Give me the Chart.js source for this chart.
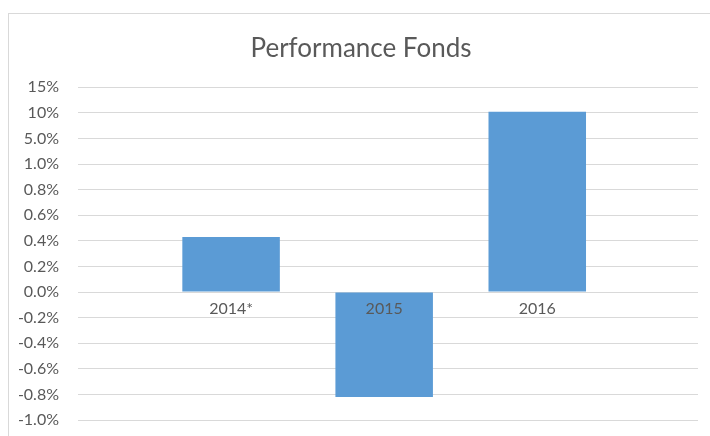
<!DOCTYPE html>
<html>
<head>
<meta charset="utf-8">
<script src="https://cdn.jsdelivr.net/npm/chart.js@4.4.1/dist/chart.umd.min.js"></script>
<style>
    html, body { margin: 0; padding: 0; background: #fff; }
    #wrap { position: relative; width: 710px; height: 436px; overflow: hidden; }
    #frame { position: absolute; left: 8px; top: 13px; width: 800px; height: 500px;
             border-left: 1px solid #D9D9D9; border-top: 1px solid #D9D9D9; }
    #chart { position: absolute; left: 0; top: 0; }
</style>
</head>
<body>
<div id="wrap">
    <div id="frame"></div>
    <canvas id="chart" width="722" height="436"></canvas>
</div>
<script>
// Chart data
const categories = ['2014*', '2015', '2016'];
const performance = [0.43, -0.82, 10.2];   // percent

// The value axis is not linear: equally spaced ticks with these values
const tickValues = [-1.0, -0.8, -0.6, -0.4, -0.2, 0.0, 0.2, 0.4, 0.6, 0.8, 1.0, 5, 10, 15];
const tickLabels = ['-1.0%', '-0.8%', '-0.6%', '-0.4%', '-0.2%', '0.0%', '0.2%', '0.4%', '0.6%', '0.8%', '1.0%', '5.0%', '10%', '15%'];

// Map a percentage onto the tick index scale (piecewise linear)
function toAxis(v) {
    for (let i = 0; i < tickValues.length - 1; i++) {
        const a = tickValues[i], b = tickValues[i + 1];
        if (v <= b || i === tickValues.length - 2) {
            return i + (v - a) / (b - a);
        }
    }
    return 0;
}

const zeroIndex = toAxis(0);
const textColor = '#595959';
const gridColor = '#D9D9D9';

const ctx = document.getElementById('chart').getContext('2d');
new Chart(ctx, {
    type: 'bar',
    data: {
        datasets: [{
            label: 'Performance',
            data: performance.map((v, i) => ({ x: i + 1, y: toAxis(v) - zeroIndex })),
            base: 0,
            backgroundColor: '#5B9BD5',
            borderWidth: 0,
            categoryPercentage: 1,
            barPercentage: 0.637
        }]
    },
    options: {
        responsive: false,
        animation: false,
        layout: { padding: { top: 33, right: 0, bottom: 16, left: 0 } },
        plugins: {
            legend: { display: false },
            tooltip: { enabled: false },
            title: {
                display: true,
                text: 'Performance Fonds',
                color: textColor,
                font: { family: 'Lato', size: 26, weight: 'normal' },
                padding: { top: 0, bottom: 23 }
            }
        },
        scales: {
            x: {
                type: 'linear',
                min: 0,
                max: 4.05,
                offset: false,
                position: { y: 0 },
                grid: { display: false },
                border: { display: false },
                afterBuildTicks: (scale) => {
                    scale.ticks = categories.map((c, i) => ({ value: i + 1 }));
                },
                afterFit: (scale) => { scale.height = 0; },
                ticks: {
                    z: 1,
                    color: textColor,
                    font: { family: 'Lato', size: 16 },
                    padding: -1,
                    maxRotation: 0,
                    callback: (value) => categories[Math.round(value) - 1] || ''
                }
            },
            y: {
                type: 'linear',
                min: -zeroIndex,
                max: tickValues.length - 1 - zeroIndex,
                afterFit: (scale) => {
                    scale.width = 78;
                    scale.paddingTop = 0;
                    scale.paddingBottom = 0;
                },
                grid: { color: gridColor, lineWidth: 1, drawTicks: false },
                border: { display: false },
                ticks: {
                    stepSize: 1,
                    color: textColor,
                    font: { family: 'Lato', size: 16 },
                    padding: 19,
                    callback: (value) => tickLabels[Math.round(value + zeroIndex)]
                }
            },
            // empty right-hand axis: keeps the plot right edge while the title centres on the frame
            yRight: {
                type: 'linear',
                position: 'right',
                min: 0,
                max: 1,
                grid: { display: false },
                border: { display: false },
                ticks: { display: false },
                afterFit: (scale) => {
                    scale.width = 24;
                    scale.paddingTop = 0;
                    scale.paddingBottom = 0;
                }
            }
        }
    }
});
</script>
</body>
</html>
